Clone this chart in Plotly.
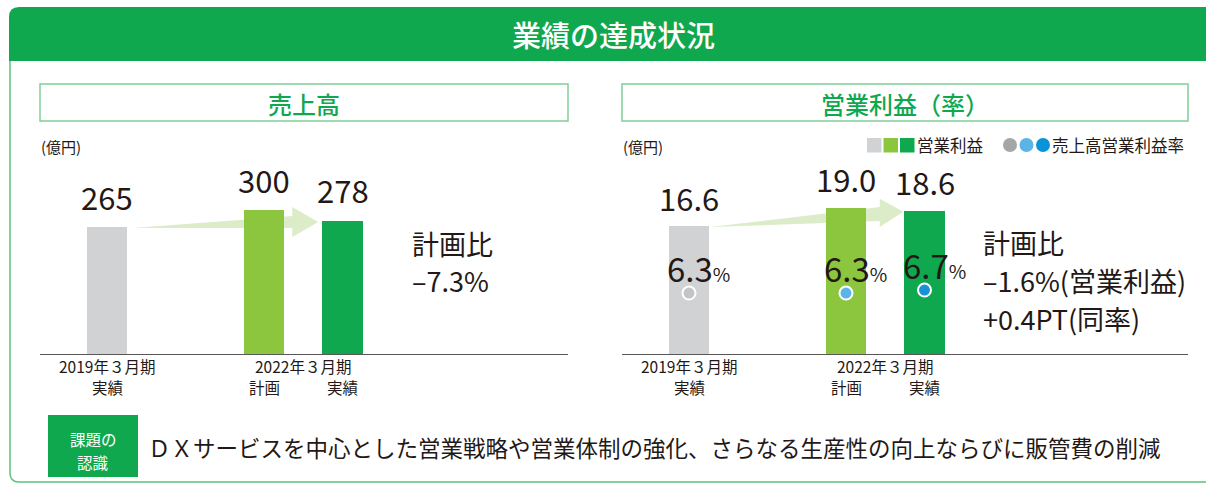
import plotly.graph_objects as go

W, H = 1206, 484

# ---------------- data ----------------
period_labels = ["2019年３月期", "2022年３月期"]
kind_labels = ["実績", "計画", "実績"]
sales = [265, 300, 278]                 # 売上高 (億円)
op_profit = [16.6, 19.0, 18.6]          # 営業利益 (億円)
op_margin = [6.3, 6.3, 6.7]             # 売上高営業利益率 (%)
sales_note = ["計画比", "–7.3%"]
profit_note = ["計画比", "–1.6%(営業利益)", "+0.4PT(同率)"]
title_main = "業績の達成状況"
title_left = "売上高"
title_right = "営業利益（率）"
unit_label = "(億円)"
legend_bar = "営業利益"
legend_dot = "売上高営業利益率"
issue_tag = ["課題の", "認識"]
issue_text = "ＤＸサービスを中心とした営業戦略や営業体制の強化、さらなる生産性の向上ならびに販管費の削減"

# ---------------- style ----------------
pos = [0, 2, 3]
bar_w = 0.51
bar_colors = ["#d1d2d4", "#8cc63f", "#0fa84e"]
dot_colors = ["#c3c4c6", "#5bb4e5", "#1a91d6"]
legend_dot_colors = ["#a5a6a8", "#5bb4e5", "#0a93d8"]
GREEN = "#10a84e"
TXT = "#231815"
ARROW = "#dcecc8"
FONT = "Noto Sans CJK JP"

fig = go.Figure()

# left: sales bars
fig.add_trace(go.Bar(x=pos, y=sales, width=bar_w, marker=dict(color=bar_colors, line=dict(width=0)),
                     xaxis="x", yaxis="y", hoverinfo="skip", showlegend=False))
# right: operating profit bars
fig.add_trace(go.Bar(x=pos, y=op_profit, width=bar_w, marker=dict(color=bar_colors, line=dict(width=0)),
                     xaxis="x2", yaxis="y2", hoverinfo="skip", showlegend=False))
# right: margin markers
fig.add_trace(go.Scatter(x=pos, y=op_margin, mode="markers",
                         marker=dict(size=13, color=dot_colors, line=dict(color="white", width=2)),
                         xaxis="x2", yaxis="y3", hoverinfo="skip", showlegend=False))

def px_x(p):
    return p / W

def px_y(p):
    return 1 - p / H

base_px, top_px = 354, 160
ydom = [px_y(base_px), px_y(top_px)]
unit_px = 78.5
# left chart
lx0, lx1, lc0 = 40, 568, 107
# right chart
rx0, rx1, rc0 = 622, 1188, 689

axis_common = dict(showgrid=False, zeroline=False, showticklabels=False, ticks="")
fig.update_layout(
    width=W, height=H, margin=dict(l=0, r=0, t=0, b=0),
    paper_bgcolor="white", plot_bgcolor="rgba(0,0,0,0)",
    bargap=0, barmode="overlay",
    font=dict(family=FONT, color=TXT),
    xaxis=dict(domain=[px_x(lx0), px_x(lx1)], range=[(lx0 - lc0) / unit_px, (lx1 - lc0) / unit_px],
               anchor="y", showline=True, linecolor="#595757", linewidth=1, **axis_common),
    yaxis=dict(domain=ydom, range=[0, (base_px - top_px) / 0.479], anchor="x", **axis_common),
    xaxis2=dict(domain=[px_x(rx0), px_x(rx1)], range=[(rx0 - rc0) / unit_px, (rx1 - rc0) / unit_px],
                anchor="y2", showline=True, linecolor="#595757", linewidth=1, **axis_common),
    yaxis2=dict(domain=ydom, range=[0, (base_px - top_px) / 7.69], anchor="x2", **axis_common),
    yaxis3=dict(overlaying="y2", anchor="x2", range=[-1.83, -1.83 + (base_px - top_px) / 7.5],
                side="right", **axis_common),
    xaxis4=dict(domain=[0, 1], range=[0, W], anchor="y4", visible=False),
    yaxis4=dict(domain=[0, 1], range=[H, 0], anchor="x4", visible=False),
)

shapes = []
ann = []

def cshape(**kw):
    d = dict(xref="x4", yref="y4")
    d.update(kw)
    shapes.append(d)

def ctext(x, y, text, size, color=TXT, xanchor="center", yanchor="middle", **kw):
    ann.append(dict(xref="x4", yref="y4", x=x, y=y, text=text, showarrow=False,
                    xanchor=xanchor, yanchor=yanchor,
                    font=dict(size=size, color=color, family=FONT, **kw.pop("font", {})), **kw))

# header band + frame
cshape(type="path", path="M 9,61 L 9,17 Q 9,7 19,7 L 1206,7 L 1206,61 Z",
       fillcolor=GREEN, line=dict(width=0), layer="below")
cshape(type="path", path="M 10,61 L 10,473 Q 10,482 19,482 L 1206,482",
       line=dict(color="#5fc080", width=1.5), layer="below")
ctext(613, 34, title_main, 29, color="white", font=dict(weight=500))

# subtitle boxes
cshape(type="rect", x0=40, x1=568, y0=84, y1=121, line=dict(color="#7fcf98", width=1.5), layer="below")
cshape(type="rect", x0=622, x1=1188, y0=84, y1=121, line=dict(color="#7fcf98", width=1.5), layer="below")
ctext(304, 103, title_left, 24, color=GREEN, font=dict(weight=500))
ctext(905, 103, title_right, 24, color=GREEN, font=dict(weight=500))

# unit labels
ctext(39, 146, unit_label, 15, xanchor="left")
ctext(621, 146, unit_label, 15, xanchor="left")

# legend (right chart)
for i, c in enumerate(bar_colors):
    cshape(type="rect", x0=867 + i * 16.5, x1=881.5 + i * 16.5, y0=138, y1=152.5, fillcolor=c, line=dict(width=0))
ctext(915, 145, legend_bar, 16.5, xanchor="left")
for i, c in enumerate(legend_dot_colors):
    cx = 1010 + i * 16.5
    cshape(type="circle", x0=cx - 7, x1=cx + 7, y0=138, y1=152, fillcolor=c, line=dict(width=0))
ctext(1050, 145, legend_dot, 16.5, xanchor="left")

# x labels
for xa in ("x", "x2"):
    ann.append(dict(xref=xa, yref="y4", x=pos[0], y=365.5, text=period_labels[0], showarrow=False,
                    font=dict(size=15.5, family=FONT, color=TXT)))
    ann.append(dict(xref=xa, yref="y4", x=(pos[1] + pos[2]) / 2, y=365.5, text=period_labels[1], showarrow=False,
                    font=dict(size=15.5, family=FONT, color=TXT)))
    for p, k in zip(pos, kind_labels):
        ann.append(dict(xref=xa, yref="y4", x=p, y=387, text=k, showarrow=False,
                        font=dict(size=15.5, family=FONT, color=TXT)))

# value labels
for p, v in zip(pos, sales):
    ann.append(dict(xref="x", yref="y", x=p, y=v, text=f"{v:d}", showarrow=False, yanchor="middle", yshift=31,
                    font=dict(size=31, family=FONT, color=TXT)))
for p, v in zip(pos, op_profit):
    ann.append(dict(xref="x2", yref="y2", x=p, y=v, text=f"{v:.1f}", showarrow=False, yanchor="middle", yshift=29,
                    font=dict(size=31, family=FONT, color=TXT)))
for p, v in zip(pos, op_margin):
    ann.append(dict(xref="x2", yref="y3", x=p, y=v,
                    text=f"{v:.1f}<span style='font-size:19px'>%</span>", showarrow=False,
                    xanchor="left", xshift=-24, yanchor="middle", yshift=25,
                    font=dict(size=33, family=FONT, color=TXT)))

# plan comparison notes
ctext(410, 243, sales_note[0], 27, xanchor="left")
ctext(410, 280, sales_note[1], 27, xanchor="left")
for i, t in enumerate(profit_note):
    ctext(981, 242 + 38 * i, t, 27, xanchor="left")

# growth arrows (behind the bars, in data units)
def arrow(xref, yref, x_tail, y_tail, x_base, y_up, y_low, y_htop, y_hbot, x_tip, y_tip):
    path = (f"M {x_tail},{y_tail} L {x_base},{y_up} L {x_base},{y_htop} L {x_tip},{y_tip} "
            f"L {x_base},{y_hbot} L {x_base},{y_low} Z")
    shapes.append(dict(type="path", xref=xref, yref=yref, path=path, fillcolor=ARROW,
                       line=dict(width=0), layer="below"))

arrow("x", "y", pos[0] + 0.33, sales[0] - 2, 2.36, 288, 263, 307, 244, 2.69, 275.5)
arrow("x2", "y2", pos[0] + 0.27, op_profit[0] - 0.1, 2.43, 19.1, 17.3, 20.2, 16.5, 2.73, 18.5)

# issue box
cshape(type="rect", x0=48, x1=138, y0=415, y1=477, fillcolor=GREEN, line=dict(width=0))
ctext(93, 439, issue_tag[0], 15.5, color="white")
ctext(93, 462, issue_tag[1], 15.5, color="white")
ctext(146, 447, issue_text, 22.5, xanchor="left")

fig.update_layout(shapes=shapes, annotations=ann)
fig.write_html("out.html", config={"displayModeBar": False},
               post_script="document.documentElement.style.margin='0';document.body.style.margin='0';"
                           "document.body.style.overflow='hidden';")
